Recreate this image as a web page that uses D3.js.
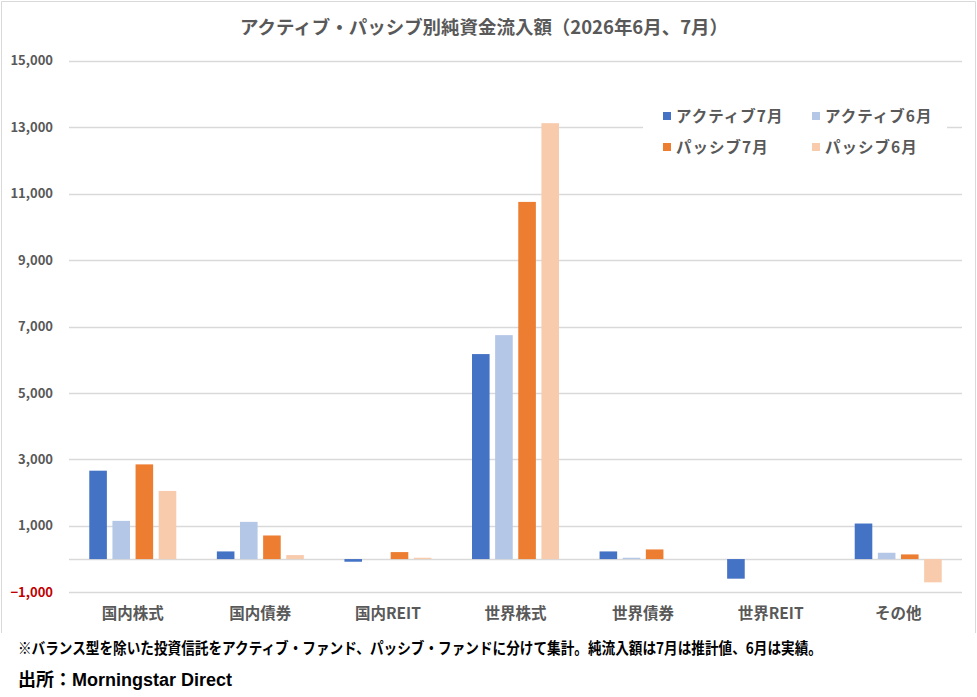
<!DOCTYPE html>
<html>
<head>
<meta charset="utf-8">
<script src="https://cdn.jsdelivr.net/npm/d3@7"></script>
<style>
  body { margin: 0; background: #fff; }
  svg { display: block; }
</style>
</head>
<body>
<svg id="chart" width="977" height="697"></svg>
<script>
// data
let categories = ["国内株式", "国内債券", "国内REIT", "世界株式", "世界債券", "世界REIT", "その他"];
let seriesNames = ["アクティブ7月", "アクティブ6月", "パッシブ7月", "パッシブ6月"];
let active7 = [2660, 230, -80, 6170, 230, -590, 1070];
let active6 = [1150, 1120, 0, 6740, 40, 0, 190];
let passive7 = [2850, 710, 210, 10750, 290, 0, 140];
let passive6 = [2050, 120, 40, 13120, 0, 0, -700];
let yTicks = [-1000, 1000, 3000, 5000, 7000, 9000, 11000, 13000, 15000];

let colors = ["#4472C4", "#B4C7E7", "#ED7D31", "#F8CBAD"];
let fontJP = "'Noto Sans CJK JP', 'Noto Sans', sans-serif";
let greyText = "#595959";

function drawChart(svgId) {
  let svg = d3.select(svgId);
  let seriesData = [active7, active6, passive7, passive6];

  // chart frame
  svg.append("path")
    .attr("d", "M 1.5 633 L 1.5 1.5 L 975.5 1.5 L 975.5 633")
    .style("fill", "none")
    .style("stroke", "#d9d9d9")
    .style("stroke-width", 1);

  let x0 = d3.scaleBand()
    .domain(categories)
    .range([69, 962])
    .padding(0);

  let x1 = d3.scaleBand()
    .domain(seriesNames)
    .range([0, 87])
    .paddingInner(0.24)
    .paddingOuter(0);

  let y = d3.scaleLinear()
    .domain([-1000, 15000])
    .range([592.3, 60.7]);

  // gridlines
  svg.append("g")
    .selectAll(".grid")
    .data(yTicks)
    .enter()
    .append("line")
    .attr("class", "grid")
    .attr("x1", 69)
    .attr("x2", 962)
    .attr("y1", d => Math.round(y(d)) + 0.5)
    .attr("y2", d => Math.round(y(d)) + 0.5)
    .style("stroke", "#d9d9d9")
    .style("stroke-width", 1.3);

  // zero line
  svg.append("line")
    .attr("x1", 69)
    .attr("x2", 962)
    .attr("y1", Math.round(y(0)) + 0.5)
    .attr("y2", Math.round(y(0)) + 0.5)
    .style("stroke", "#d9d9d9")
    .style("stroke-width", 1.3);

  // y labels
  svg.append("g")
    .selectAll(".ylabel")
    .data(yTicks)
    .enter()
    .append("text")
    .attr("class", "ylabel")
    .attr("x", 53)
    .attr("y", d => y(d))
    .attr("dy", "0.35em")
    .attr("text-anchor", "end")
    .text(d => d3.format(",")(d))
    .style("fill", d => d < 0 ? "#C00000" : greyText)
    .style("font-family", fontJP)
    .style("font-weight", "bold")
    .style("font-size", "13px");

  // bars
  let groups = svg.append("g")
    .selectAll(".cat")
    .data(categories)
    .enter()
    .append("g")
    .attr("class", "cat")
    .attr("transform", d => "translate(" + (x0(d) + x0.bandwidth() / 2 - 43.5) + ",0)");

  groups.selectAll("rect")
    .data((d, i) => seriesNames.map((s, j) => ({ series: s, idx: j, value: seriesData[j][i] })))
    .enter()
    .append("rect")
    .attr("x", d => x1(d.series))
    .attr("width", x1.bandwidth())
    .attr("y", d => y(Math.max(0, d.value)))
    .attr("height", d => Math.abs(y(d.value) - y(0)))
    .style("fill", d => colors[d.idx]);

  // category labels
  svg.append("g")
    .selectAll(".xlabel")
    .data(categories)
    .enter()
    .append("text")
    .attr("class", "xlabel")
    .attr("x", d => x0(d) + x0.bandwidth() / 2)
    .attr("y", 619)
    .attr("text-anchor", "middle")
    .text(d => d)
    .style("fill", greyText)
    .style("font-family", fontJP)
    .style("font-weight", "bold")
    .style("font-size", "15.5px");

  // title
  svg.append("text")
    .attr("x", 484)
    .attr("y", 34)
    .attr("text-anchor", "middle")
    .attr("textLength", 488)
    .attr("lengthAdjust", "spacingAndGlyphs")
    .text("アクティブ・パッシブ別純資金流入額（2026年6月、7月）")
    .style("fill", greyText)
    .style("font-family", fontJP)
    .style("font-weight", "bold")
    .style("font-size", "18.5px");

  // legend
  svg.append("rect")
    .attr("x", 643)
    .attr("y", 100)
    .attr("width", 304)
    .attr("height", 62)
    .style("fill", "#fff");

  let legendPos = [[663, 116], [812, 116], [663, 147], [812, 147]];
  let legend = svg.append("g")
    .selectAll(".legend")
    .data(seriesNames)
    .enter()
    .append("g")
    .attr("class", "legend")
    .attr("transform", (d, i) => "translate(" + legendPos[i][0] + "," + legendPos[i][1] + ")");

  legend.append("rect")
    .attr("x", 0)
    .attr("y", -4)
    .attr("width", 8)
    .attr("height", 8)
    .style("fill", (d, i) => colors[i]);

  legend.append("text")
    .attr("x", 13)
    .attr("y", 0)
    .attr("dy", "0.36em")
    .text(d => d)
    .style("fill", greyText)
    .style("font-family", fontJP)
    .style("font-weight", "bold")
    .style("letter-spacing", "1px")
    .style("font-size", "15.5px");

  // footnotes
  svg.append("text")
    .attr("x", 18)
    .attr("y", 654)
    .attr("textLength", 804)
    .attr("lengthAdjust", "spacingAndGlyphs")
    .text("※バランス型を除いた投資信託をアクティブ・ファンド、パッシブ・ファンドに分けて集計。純流入額は7月は推計値、6月は実績。")
    .style("fill", "#000")
    .style("font-family", fontJP)
    .style("font-weight", "bold")
    .style("font-size", "15.5px");

  let source = svg.append("text")
    .attr("x", 18)
    .attr("y", 686)
    .style("fill", "#000")
    .style("font-weight", "bold")
    .style("font-size", "18px");
  source.append("tspan")
    .text("出所：")
    .style("font-family", fontJP);
  source.append("tspan")
    .text("Morningstar Direct")
    .style("font-family", "'Liberation Sans', Arial, sans-serif");
}

drawChart("#chart");
</script>
</body>
</html>
